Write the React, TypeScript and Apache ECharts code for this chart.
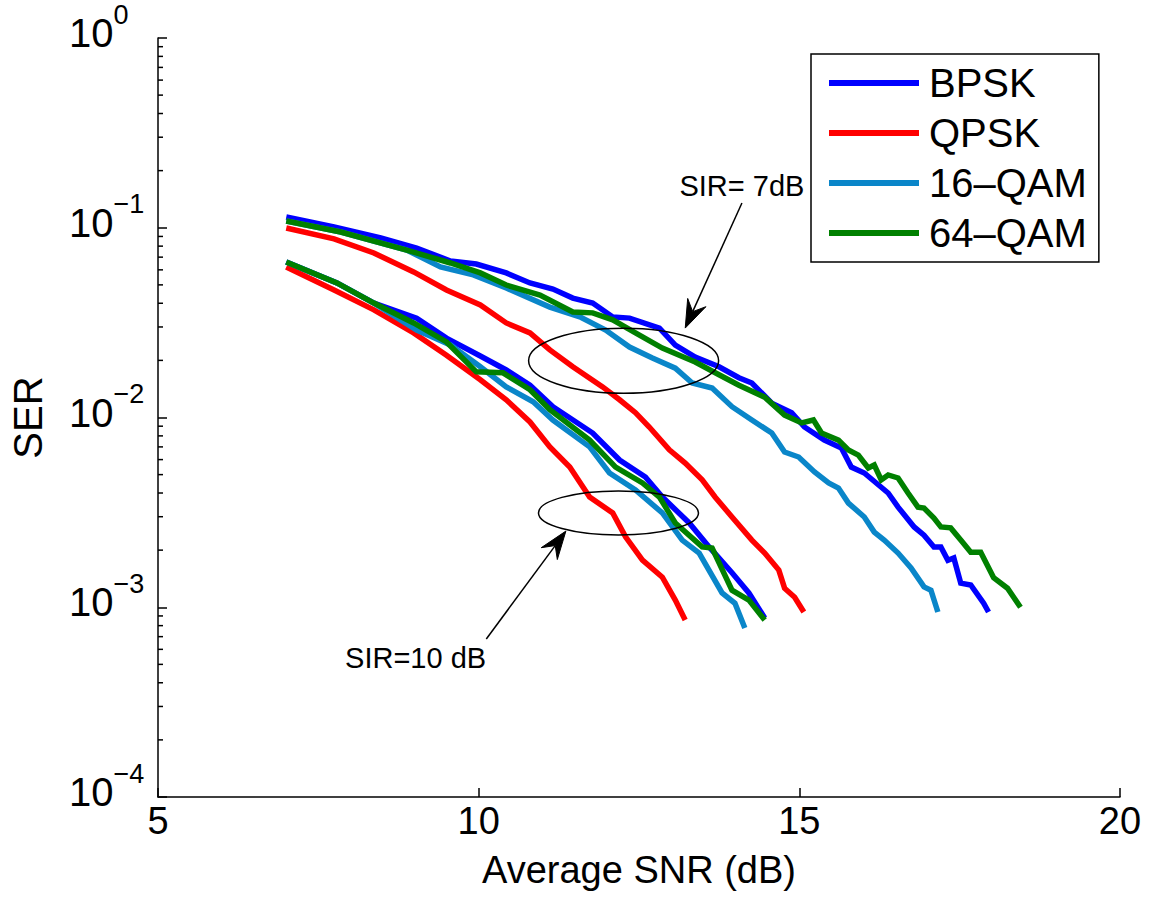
import React, { useEffect, useRef } from "react";
import * as echarts from "echarts";

const FONT = '"Liberation Sans", Arial, Helvetica, sans-serif';

// Legend names and colours
const seriesNames = ["BPSK", "QPSK", "16–QAM", "64–QAM"];
const seriesColors = ["#0000FF", "#FF0000", "#0A86C9", "#008000"];

// Axis ticks
const xTicks = [5, 10, 15, 20];
const yDecades = [1e-4, 1e-3, 1e-2, 1e-1, 1];

// SIR = 7 dB curves  [SNR (dB), SER]
const bpsk7 = [
  [7.0, 0.114], [7.745, 0.101], [8.474, 0.0883], [9.033, 0.0782], [9.56, 0.0668],
  [9.963, 0.0644], [10.43, 0.0578], [10.8, 0.0512], [11.158, 0.0475], [11.468, 0.0426],
  [11.778, 0.0401], [12.09, 0.0339], [12.352, 0.0334], [12.818, 0.0296], [13.066, 0.0241],
  [13.376, 0.0208], [13.748, 0.0185], [14.058, 0.0162], [14.26, 0.0152], [14.57, 0.0119],
  [14.88, 0.0106], [15.08, 0.00891], [15.39, 0.0076], [15.656, 0.0069], [15.81, 0.00548],
  [16.013, 0.0051], [16.385, 0.004], [16.54, 0.00337], [16.79, 0.00265], [16.944, 0.0024],
  [17.099, 0.00208], [17.207, 0.00208], [17.316, 0.00177], [17.409, 0.00182], [17.517, 0.00134],
  [17.673, 0.00131], [17.874, 0.00105], [17.95, 0.000944],
];
const qpsk7 = [
  [7.0, 0.0997], [7.745, 0.0873], [8.366, 0.0736], [8.986, 0.0585], [9.498, 0.047],
  [10.026, 0.0392], [10.43, 0.0315], [10.8, 0.0279], [11.11, 0.0227], [11.468, 0.0185],
  [11.933, 0.0145], [12.197, 0.0124], [12.445, 0.0106], [12.66, 0.00891], [12.973, 0.00675],
  [13.22, 0.00575], [13.485, 0.00469], [13.686, 0.00381], [13.95, 0.00299], [14.26, 0.00226],
  [14.46, 0.00193], [14.68, 0.00157], [14.77, 0.00126], [14.927, 0.00113], [15.07, 0.000944],
];
const qam16_7 = [
  [7.0, 0.1086], [7.85, 0.095], [8.878, 0.0763], [9.405, 0.0621], [9.917, 0.0564],
  [10.43, 0.0481], [11.11, 0.0382], [11.577, 0.0339], [11.98, 0.0289], [12.352, 0.0235],
  [12.709, 0.0206], [13.066, 0.0182], [13.33, 0.0152], [13.64, 0.0143], [13.95, 0.0114],
  [14.26, 0.0097], [14.57, 0.00828], [14.77, 0.00658], [14.99, 0.00619], [15.237, 0.00516],
  [15.457, 0.00452], [15.61, 0.00425], [15.765, 0.00354], [16.013, 0.00299], [16.168, 0.00249],
  [16.323, 0.00226], [16.54, 0.00193], [16.742, 0.00161], [16.944, 0.00128], [17.052, 0.00123],
  [17.16, 0.000944],
];
const qam64_7 = [
  [7.0, 0.1086], [7.85, 0.095], [8.878, 0.0763], [9.56, 0.0652], [10.026, 0.0578],
  [10.43, 0.0499], [10.956, 0.0442], [11.468, 0.036], [11.778, 0.0356], [12.09, 0.0327],
  [12.445, 0.0279], [12.864, 0.0232], [13.376, 0.0196], [13.748, 0.0168], [14.058, 0.0148],
  [14.46, 0.0128], [14.77, 0.0103], [15.036, 0.00936], [15.22, 0.0097], [15.346, 0.00828],
  [15.61, 0.0076], [15.765, 0.00675], [15.92, 0.00634], [16.075, 0.00542], [16.168, 0.00562],
  [16.277, 0.00469], [16.385, 0.00498], [16.54, 0.0048], [16.695, 0.004], [16.85, 0.00337],
  [16.944, 0.00333], [17.099, 0.00295], [17.207, 0.00265], [17.36, 0.00262], [17.517, 0.00226],
  [17.673, 0.00195], [17.828, 0.00195], [18.03, 0.00143], [18.246, 0.00126], [18.448, 0.001],
];

// SIR = 10 dB curves  [SNR (dB), SER]
const bpsk10 = [
  [7.0, 0.066], [7.79, 0.0512], [8.366, 0.0401], [9.033, 0.0334], [9.498, 0.0262],
  [10.026, 0.0211], [10.43, 0.0178], [10.8, 0.0148], [11.158, 0.0114], [11.778, 0.00828],
  [12.197, 0.00597], [12.6, 0.00486], [12.864, 0.00381], [13.283, 0.00278], [13.593, 0.00208],
  [13.95, 0.00152], [14.213, 0.00119], [14.46, 0.000877],
];
const qpsk10 = [
  [7.0, 0.0621], [7.745, 0.047], [8.366, 0.0369], [8.986, 0.0279], [9.498, 0.0213],
  [10.026, 0.0158], [10.43, 0.0124], [10.8, 0.00947], [11.11, 0.007], [11.42, 0.00548],
  [11.73, 0.00381], [12.09, 0.00314], [12.29, 0.00235], [12.554, 0.00177], [12.864, 0.00144],
  [13.066, 0.00109], [13.22, 0.000857],
];
const qam16_10 = [
  [7.0, 0.066], [7.79, 0.0512], [8.366, 0.0401], [9.033, 0.0289], [9.56, 0.0241],
  [10.026, 0.0185], [10.43, 0.0145], [10.85, 0.0121], [11.158, 0.0097], [11.73, 0.007],
  [12.04, 0.0051], [12.445, 0.00415], [12.864, 0.00314], [13.174, 0.00226], [13.438, 0.00193],
  [13.795, 0.00119], [13.996, 0.00105], [14.15, 0.000778],
];
const qam64_10 = [
  [7.0, 0.066], [7.79, 0.0512], [8.366, 0.0401], [8.986, 0.0315], [9.498, 0.025],
  [9.963, 0.0174], [10.38, 0.0172], [10.8, 0.014], [11.11, 0.011], [11.73, 0.0076],
  [12.135, 0.00548], [12.554, 0.00452], [12.818, 0.00381], [13.066, 0.00278], [13.485, 0.00208],
  [13.64, 0.00205], [13.95, 0.00123], [14.213, 0.00109], [14.46, 0.000857],
];

// Annotations (data coordinates)
const ellipseCenters = [
  [12.26, 0.0199],
  [12.18, 0.00314],
];
const arrowTails = [
  [14.105, 0.135],
  [10.119, 0.00068],
];
const arrowTips = [
  [13.221, 0.0296],
  [11.36, 0.00252],
];
const noteTexts = ["SIR= 7dB", "SIR=10 dB"];
const notePositions = [
  [14.105, 0.166],
  [9.017, 0.00054],
];

// Styling constants (pixel sizes)
const ELLIPSE_RADII = [
  [95, 32.5],
  [80, 22],
];

const minorTickValues: number[] = [];
for (let k = -4; k <= -1; k++) {
  for (let m = 2; m <= 9; m++) minorTickValues.push(m * Math.pow(10, k));
}

export default function App() {
  const ref = useRef<HTMLDivElement>(null);

  useEffect(() => {
    if (!ref.current) return;
    const chart = echarts.init(ref.current, null, { renderer: "svg" });

    const groups = [
      [bpsk7, bpsk10],
      [qpsk7, qpsk10],
      [qam16_7, qam16_10],
      [qam64_7, qam64_10],
    ];
    const lineSeries: any[] = [];
    groups.forEach((g, i) => {
      g.forEach((d) => {
        lineSeries.push({
          type: "line",
          name: seriesNames[i],
          data: d,
          showSymbol: false,
          symbol: "none",
          color: seriesColors[i],
          lineStyle: { width: 5.5, color: seriesColors[i], join: "miter" },
          z: 2,
        });
      });
    });

    const minorSeries = {
      type: "custom",
      name: "minor",
      coordinateSystem: "cartesian2d",
      silent: true,
      clip: false,
      z: 3,
      data: minorTickValues.map((v) => [xTicks[0], v]),
      renderItem: (params: any, api: any) => {
        const p = api.coord([api.value(0), api.value(1)]);
        return {
          type: "line",
          shape: { x1: p[0], y1: p[1], x2: p[0] + 5, y2: p[1] },
          style: { stroke: "#000", lineWidth: 1.5 },
        };
      },
    };

    const ellipseSeries = {
      type: "custom",
      name: "ellipses",
      coordinateSystem: "cartesian2d",
      silent: true,
      clip: false,
      z: 4,
      data: ellipseCenters,
      renderItem: (params: any, api: any) => {
        const p = api.coord([api.value(0), api.value(1)]);
        const r = ELLIPSE_RADII[params.dataIndex];
        return {
          type: "ellipse",
          shape: { cx: p[0], cy: p[1], rx: r[0], ry: r[1] },
          style: { fill: "none", stroke: "#000", lineWidth: 1.5 },
        };
      },
    };

    const arrowSeries = {
      type: "custom",
      name: "arrows",
      coordinateSystem: "cartesian2d",
      silent: true,
      clip: false,
      z: 5,
      data: arrowTails.map((t, i) => [t[0], t[1], arrowTips[i][0], arrowTips[i][1]]),
      renderItem: (params: any, api: any) => {
        const a = api.coord([api.value(0), api.value(1)]);
        const b = api.coord([api.value(2), api.value(3)]);
        const dx = b[0] - a[0];
        const dy = b[1] - a[1];
        const len = Math.sqrt(dx * dx + dy * dy);
        const ux = dx / len;
        const uy = dy / len;
        const px = -uy;
        const py = ux;
        const L = 28;
        const W = 10;
        const N = 18;
        return {
          type: "group",
          children: [
            {
              type: "line",
              shape: { x1: a[0], y1: a[1], x2: b[0] - ux * N, y2: b[1] - uy * N },
              style: { stroke: "#000", lineWidth: 1.5 },
            },
            {
              type: "polygon",
              shape: {
                points: [
                  [b[0], b[1]],
                  [b[0] - ux * L + px * W, b[1] - uy * L + py * W],
                  [b[0] - ux * N, b[1] - uy * N],
                  [b[0] - ux * L - px * W, b[1] - uy * L - py * W],
                ],
              },
              style: { fill: "#000", stroke: "#000", lineWidth: 1 },
            },
          ],
        };
      },
    };

    const noteSeries = {
      type: "custom",
      name: "notes",
      coordinateSystem: "cartesian2d",
      silent: true,
      clip: false,
      z: 6,
      data: notePositions,
      renderItem: (params: any, api: any) => {
        const p = api.coord([api.value(0), api.value(1)]);
        return {
          type: "text",
          style: {
            text: noteTexts[params.dataIndex],
            x: p[0],
            y: p[1],
            fontSize: 29,
            fontFamily: FONT,
            fill: "#000",
            align: "center",
            verticalAlign: "middle",
          },
        };
      },
    };

    const option: any = {
      animation: false,
      backgroundColor: "#fff",
      textStyle: { fontFamily: FONT },
      grid: { left: 153, right: 33, top: 38, bottom: 102, containLabel: false },
      legend: {
        data: seriesNames,
        orient: "vertical",
        left: 811,
        top: 54,
        padding: [9, 12, 9, 18],
        itemGap: 10,
        itemWidth: 90,
        itemHeight: 6,
        icon: "rect",
        borderColor: "#000",
        borderWidth: 1.5,
        backgroundColor: "#fff",
        selectedMode: false,
        textStyle: {
          fontSize: 40,
          fontFamily: FONT,
          color: "#000",
          lineHeight: 40,
          padding: [0, 0, 0, 5],
        },
      },
      xAxis: {
        type: "value",
        min: xTicks[0],
        max: xTicks[xTicks.length - 1],
        interval: 5,
        name: "Average SNR (dB)",
        nameLocation: "middle",
        nameGap: 59,
        nameMoveOverlap: false,
        nameTextStyle: { fontSize: 38, fontFamily: FONT, color: "#000", lineHeight: 28 },
        axisLine: { show: true, onZero: false, lineStyle: { color: "#000", width: 1.5 } },
        axisTick: { show: true, inside: true, length: 9, lineStyle: { color: "#000", width: 1.5 } },
        axisLabel: { fontSize: 38, fontFamily: FONT, color: "#000", margin: 10, lineHeight: 28 },
        splitLine: { show: false },
      },
      yAxis: {
        type: "log",
        logBase: 10,
        min: yDecades[0],
        max: yDecades[yDecades.length - 1],
        name: "SER",
        nameLocation: "middle",
        nameGap: 110,
        nameMoveOverlap: false,
        nameTextStyle: { fontSize: 40, fontFamily: FONT, color: "#000" },
        axisLine: { show: true, onZero: false, lineStyle: { color: "#000", width: 1.5 } },
        axisTick: { show: true, inside: true, length: 9, lineStyle: { color: "#000", width: 1.5 } },
        axisLabel: {
          align: "left",
          margin: 89,
          padding: [0, 0, 10, 0],
          fontSize: 39,
          formatter: (v: number) => {
            const e = Math.round(Math.log10(v));
            const s = e === 0 ? "0" : e < 0 ? "−" + Math.abs(e) : String(e);
            return "{b|10}{s|" + s + "}";
          },
          rich: {
            b: { fontSize: 40, fontFamily: FONT, color: "#000", lineHeight: 40, verticalAlign: "bottom" },
            s: {
              fontSize: 27,
              fontFamily: FONT,
              color: "#000",
              lineHeight: 27,
              verticalAlign: "bottom",
              padding: [0, 0, 25, 0],
            },
          },
        },
        splitLine: { show: false },
      },
      series: [...lineSeries, minorSeries, ellipseSeries, arrowSeries, noteSeries],
    };

    chart.setOption(option);
    return () => chart.dispose();
  }, []);

  return (
    <div
      ref={ref}
      style={{ position: "fixed", left: 0, top: 0, width: 1153, height: 899, background: "#fff" }}
    />
  );
}
